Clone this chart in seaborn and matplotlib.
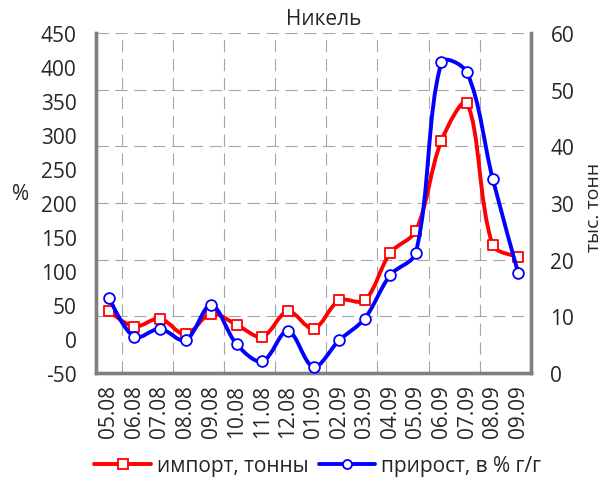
import numpy as np
import pandas as pd
import seaborn as sns
import matplotlib.pyplot as plt
from matplotlib.path import Path
from matplotlib.patches import PathPatch
from matplotlib.lines import Line2D

# data
months = ['05.08', '06.08', '07.08', '08.08', '09.08', '10.08', '11.08', '12.08',
          '01.09', '02.09', '03.09', '04.09', '05.09', '06.09', '07.09', '08.09', '09.09']
import_kt = [10.9, 8.2, 9.6, 6.8, 10.5, 8.5, 6.4, 10.9, 7.8, 12.8, 12.8,
             21.2, 25.1, 41.0, 47.6, 22.6, 20.5]
growth_pct = [60, 3, 15, -2, 50, -8, -33, 12, -41, -2, 30,
              94, 127, 407, 392, 236, 97]

left_ticks = list(range(-50, 451, 50))
right_ticks = list(range(0, 61, 10))

RED = '#ff0000'
BLUE = '#0000ff'
GRID = '#a6a6a6'
FS = 15

sns.set_style('white')
plt.rcParams['font.family'] = ['Open Sans', 'DejaVu Sans']

df = pd.DataFrame({'month': months, 'x': np.arange(len(months)),
                   'imp': import_kt, 'growth': growth_pct})


def smooth_path(a, x, y):
    # Excel-like smoothed line: bezier through the points, tangents
    # weighted by segment length on screen
    pts = np.column_stack([x, y]).astype(float)
    scr = a.transData.transform(pts)
    n = len(pts)
    d = np.hypot(*np.diff(scr, axis=0).T)
    verts = [pts[0]]
    codes = [Path.MOVETO]
    for i in range(n - 1):
        p0 = pts[max(i - 1, 0)]
        p1 = pts[i]
        p2 = pts[i + 1]
        p3 = pts[min(i + 2, n - 1)]
        d01 = d[i - 1] if i > 0 else d[i]
        d12 = d[i]
        d23 = d[i + 1] if i + 1 < n - 1 else d[i]
        c1 = p1 + (p2 - p0) * d12 / (d01 + d12) / 3
        c2 = p2 - (p3 - p1) * d12 / (d12 + d23) / 3
        verts += [c1, c2, p2]
        codes += [Path.CURVE4] * 3
    return Path(verts, codes)


fig = plt.figure(figsize=(6.07, 4.85), dpi=100)
ax = fig.add_axes([96 / 607, 1 - 374 / 485, 435 / 607, 340 / 485])
ax2 = ax.twinx()
ax.set_zorder(ax2.get_zorder() + 1)
ax.patch.set_visible(False)

ax.set_xlim(-0.5, len(months) - 0.5)
ax2.set_xlim(-0.5, len(months) - 0.5)
ax.set_ylim(-50, 450)
ax2.set_ylim(0, 60)

# right axis: import, thousand tonnes
ax2.add_patch(PathPatch(smooth_path(ax2, df['x'], df['imp']), fill=False,
                        edgecolor=RED, lw=2.8, capstyle='round', joinstyle='round'))
sns.scatterplot(data=df, x='x', y='imp', ax=ax2, marker='s', s=50,
                facecolor='white', edgecolor=RED, linewidth=1.3, zorder=3)

# left axis: growth, %
ax.add_patch(PathPatch(smooth_path(ax, df['x'], df['growth']), fill=False,
                       edgecolor=BLUE, lw=2.8, capstyle='round', joinstyle='round'))
sns.scatterplot(data=df, x='x', y='growth', ax=ax, marker='o', s=60,
                facecolor='white', edgecolor=BLUE, linewidth=1.3, zorder=3)

ax.set_yticks(left_ticks)
ax.set_yticklabels([str(t) for t in left_ticks])
ax2.set_yticks(right_ticks)
ax2.set_yticklabels([str(t) for t in right_ticks])
ax.set_xticks(df['x'])
ax.set_xticklabels(months, rotation=90)
ax.tick_params(axis='x', length=0, pad=8, labelsize=FS)
ax.tick_params(axis='y', length=0, pad=14, labelsize=FS)
ax2.tick_params(axis='y', length=0, pad=14, labelsize=FS)
for a in (ax, ax2):
    a.set_xlabel('')
    a.set_ylabel('')
    a.grid(False)

# grid: horizontal on right-axis ticks, vertical every second category boundary
for t in right_ticks[1:]:
    ax2.axhline(t, color=GRID, lw=0.8, ls=(0, (11, 6)), zorder=0)
for b in np.arange(0.5, len(months) - 1, 2):
    ax2.axvline(b, color=GRID, lw=0.8, ls=(0, (11, 6)), zorder=0)

for a in (ax, ax2):
    for side in ('left', 'right', 'bottom'):
        a.spines[side].set_color('#808080')
        a.spines[side].set_linewidth(2.4)
    a.spines['top'].set_visible(False)

fig.text(324 / 607, 1 - 19.5 / 485, 'Никель', ha='center', va='center', fontsize=FS)
fig.text(21 / 607, 1 - 195 / 485, '%', ha='center', va='center', fontsize=FS)
fig.text(594 / 607, 1 - 207 / 485, 'тыс. тонн', ha='center', va='center',
         rotation=90, fontsize=14)

handles = [Line2D([], [], color=RED, lw=2.8, marker='s', markersize=6.5,
                  markerfacecolor='white', markeredgecolor=RED, markeredgewidth=1.3),
           Line2D([], [], color=BLUE, lw=2.8, marker='o', markersize=6.5,
                  markerfacecolor='white', markeredgecolor=BLUE, markeredgewidth=1.3)]
fig.legend(handles, ['импорт, тонны', 'прирост, в % г/г'], loc='center',
           bbox_to_anchor=(318 / 607, 1 - 467 / 485), ncol=2, frameon=False,
           fontsize=FS, handlelength=2.7, handletextpad=0.3, columnspacing=0.5,
           borderpad=0, borderaxespad=0)

fig.savefig('out.png', dpi=100)
